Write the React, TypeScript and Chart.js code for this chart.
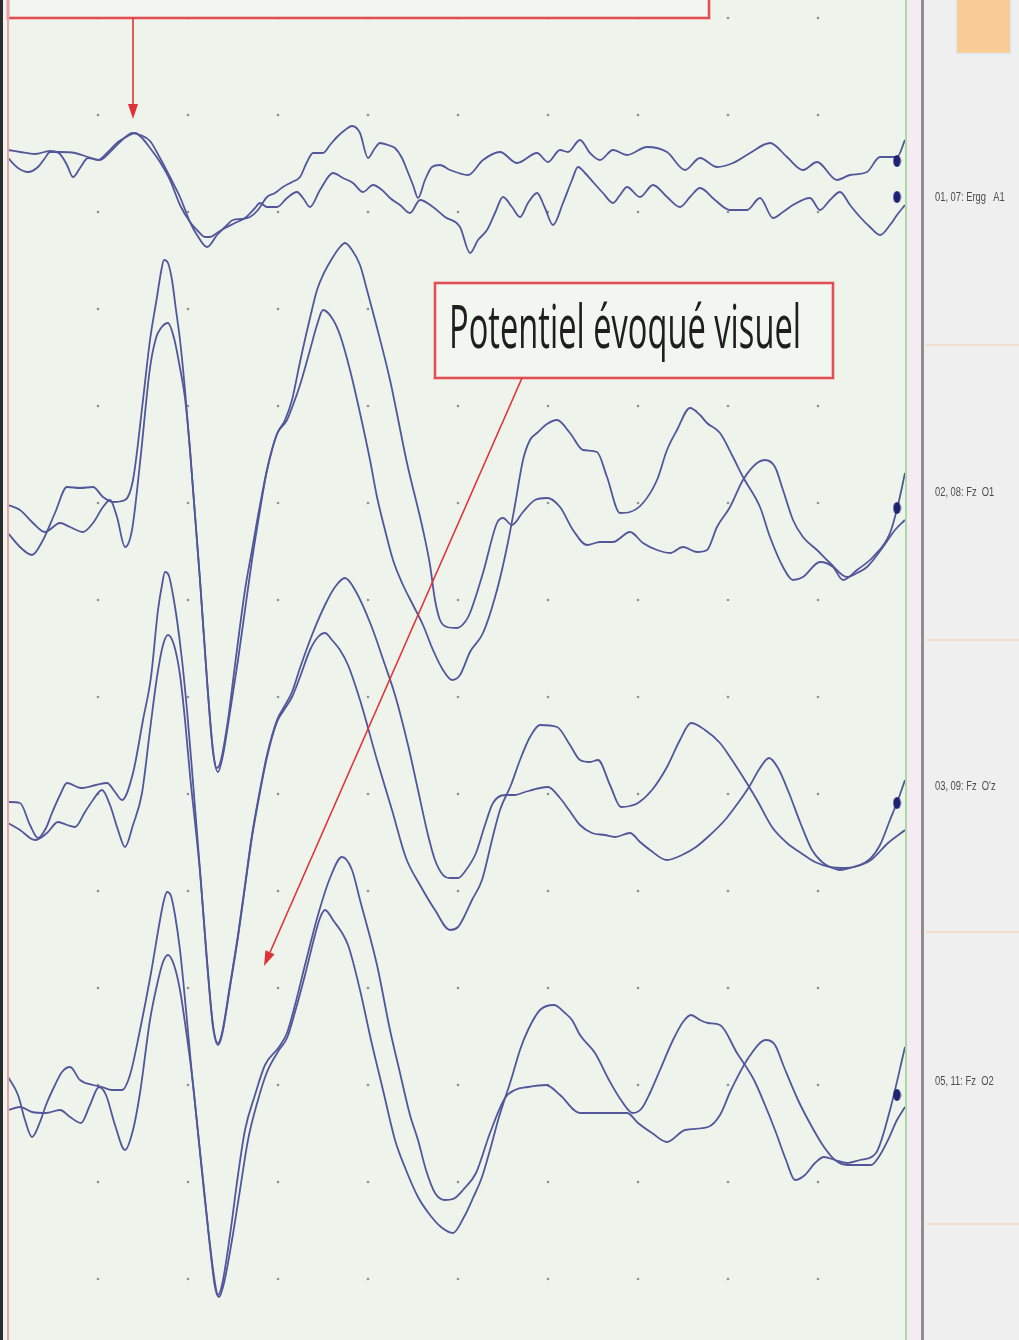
import React, { useEffect, useRef } from "react";
import { Chart, registerables } from "chart.js";

Chart.register(...registerables);

// x = sample index (~3 samples per ms, 0..897), y = stacked display amplitude (axis reversed)
const X_MAX = 897;
const Y_MAX = 1340;
const GRID_X = [90, 180, 270, 360, 450, 540, 630, 720, 810];
const GRID_Y = [18, 115, 212, 309, 406, 503, 600, 697, 794, 891, 988, 1085, 1182, 1279];

// Channel 01,07 : Ergg A1
const CH1_A = [[0,150],[12,152],[27,154],[42,151],[52,154],[59,165],[65,177],[72,168],[80,158],[92,160],[102,152],[112,142],[120,135],[124,133],[132,135],[142,141],[152,158],[162,177],[172,197],[182,222],[189,235],[199,247],[209,235],[217,227],[225,220],[234,219],[242,217],[250,210],[259,197],[267,193],[275,187],[284,182],[292,177],[299,162],[305,153],[315,153],[322,145],[329,137],[337,130],[344,126],[352,133],[360,158],[367,148],[372,143],[380,145],[387,148],[394,158],[399,170],[405,185],[410,198],[417,180],[424,167],[432,165],[442,170],[460,175],[475,160],[492,152],[509,163],[529,153],[540,162],[552,150],[560,152],[572,140],[582,153],[592,160],[605,150],[619,155],[639,147],[659,152],[677,170],[692,158],[709,167],[725,163],[742,153],[762,143],[779,157],[795,170],[809,162],[829,180],[842,175],[859,172],[872,157],[889,157],[897,140]];
const CH1_B = [[0,158],[10,168],[20,172],[30,167],[37,158],[42,152],[52,152],[67,153],[80,157],[90,160],[100,152],[110,142],[120,136],[127,133],[134,138],[142,148],[152,162],[162,180],[172,205],[182,222],[189,230],[197,237],[202,237],[209,233],[217,228],[227,223],[237,218],[247,208],[252,203],[259,207],[269,207],[279,198],[289,192],[295,198],[302,207],[312,190],[325,173],[335,178],[345,183],[355,192],[365,185],[374,190],[382,198],[392,205],[402,213],[412,200],[425,207],[437,217],[452,227],[462,253],[470,240],[479,230],[487,213],[495,197],[504,207],[512,217],[520,203],[529,193],[537,208],[545,225],[555,203],[564,180],[570,167],[577,173],[585,182],[595,193],[605,203],[612,195],[619,187],[632,197],[645,185],[659,197],[672,207],[682,197],[692,188],[707,200],[722,210],[739,210],[752,198],[765,218],[775,212],[785,205],[802,198],[812,210],[822,200],[832,192],[842,205],[852,217],[862,227],[872,235],[882,225],[889,215],[897,205]];

// Channel 02,08 : Fz O1
const CH2_A = [[0,533],[12,547],[24,555],[35,540],[47,513],[59,487],[72,488],[85,487],[95,497],[105,502],[117,500],[125,480],[135,400],[142,340],[149,297],[153,272],[156,260],[160,263],[164,280],[168,310],[172,340],[177,390],[182,450],[192,580],[199,680],[205,750],[209,768],[213,760],[220,720],[227,665],[237,590],[244,550],[252,505],[259,470],[269,434],[277,420],[284,400],[292,362],[302,318],[309,290],[315,275],[325,257],[332,247],[337,243],[344,250],[352,265],[359,290],[367,320],[382,380],[399,463],[415,530],[422,565],[427,600],[432,620],[439,627],[449,628],[457,622],[462,613],[475,573],[489,523],[495,518],[504,525],[515,512],[527,500],[539,498],[552,507],[565,530],[579,545],[592,542],[605,542],[622,532],[635,543],[649,550],[662,553],[675,547],[689,552],[699,550],[709,527],[722,507],[735,480],[749,463],[757,460],[767,467],[775,490],[785,520],[795,537],[809,550],[822,563],[839,577],[849,573],[859,567],[875,547],[887,530],[897,520]];
const CH2_B = [[0,505],[12,510],[25,523],[37,532],[52,523],[62,527],[75,532],[85,523],[95,507],[102,500],[109,517],[117,547],[124,530],[132,463],[142,368],[148,338],[153,328],[160,323],[166,338],[172,368],[177,398],[182,450],[192,580],[199,680],[205,752],[210,772],[215,755],[222,712],[230,660],[237,610],[244,560],[252,510],[259,470],[269,434],[279,420],[285,405],[292,385],[302,350],[309,325],[315,310],[324,318],[332,335],[342,370],[352,413],[362,460],[369,497],[377,530],[385,560],[395,585],[405,605],[415,625],[425,650],[435,670],[444,680],[452,675],[462,652],[475,633],[489,590],[499,547],[507,505],[515,460],[522,440],[529,433],[539,424],[549,420],[562,433],[575,450],[589,452],[599,477],[612,513],[622,512],[635,503],[649,480],[659,450],[669,430],[682,408],[692,415],[699,423],[712,433],[725,457],[735,477],[752,507],[762,537],[775,567],[785,580],[795,577],[812,562],[825,567],[835,580],[849,570],[865,557],[882,533],[890,505],[897,473]];

// Channel 03,09 : Fz O'z
const CH3_A = [[0,802],[12,803],[22,825],[30,838],[38,828],[44,813],[52,795],[59,783],[73,788],[88,785],[99,783],[107,792],[114,800],[125,773],[135,720],[143,677],[150,610],[154,585],[157,572],[161,576],[165,595],[169,620],[174,660],[179,710],[184,770],[192,870],[199,960],[205,1025],[210,1043],[214,1033],[222,985],[230,935],[237,885],[244,835],[252,790],[259,755],[269,720],[276,707],[284,692],[292,668],[304,635],[317,605],[327,587],[337,578],[347,590],[363,625],[377,665],[387,695],[400,745],[410,790],[420,835],[427,860],[435,875],[442,878],[450,878],[458,870],[468,853],[477,825],[485,803],[497,795],[507,795],[517,792],[532,788],[540,787],[552,798],[561,810],[572,825],[584,833],[597,835],[607,837],[622,833],[632,842],[642,850],[659,860],[674,855],[688,847],[702,835],[717,820],[730,803],[741,787],[752,768],[761,758],[770,768],[781,793],[792,822],[804,850],[814,862],[822,867],[832,870],[845,867],[863,860],[880,843],[897,830]];
const CH3_B = [[0,823],[12,830],[27,840],[39,833],[50,822],[59,825],[67,827],[77,812],[85,800],[94,790],[102,805],[110,830],[117,847],[125,825],[134,793],[142,730],[149,677],[155,645],[160,635],[166,645],[172,675],[177,720],[182,775],[192,872],[199,962],[205,1027],[210,1045],[214,1035],[222,987],[230,937],[237,887],[244,837],[252,792],[259,757],[269,722],[276,710],[284,697],[292,677],[302,650],[310,637],[317,633],[324,640],[332,650],[340,665],[352,700],[369,760],[384,810],[398,858],[412,885],[427,910],[442,930],[450,927],[456,917],[464,900],[474,880],[484,840],[492,810],[503,785],[512,760],[522,737],[532,725],[549,727],[562,745],[572,760],[582,762],[590,760],[602,785],[613,807],[622,806],[630,803],[644,790],[659,767],[672,740],[683,723],[697,730],[712,743],[722,757],[735,777],[749,800],[764,827],[779,843],[793,853],[807,862],[822,867],[837,868],[850,866],[863,858],[872,845],[882,820],[890,800],[897,780]];

// Channel 05,11 : Fz O2
const CH4_A = [[0,1077],[10,1095],[17,1120],[24,1137],[32,1122],[38,1105],[47,1085],[54,1072],[62,1067],[72,1080],[85,1085],[94,1087],[104,1090],[114,1090],[122,1075],[132,1030],[143,973],[152,920],[156,900],[159,892],[163,896],[167,915],[172,950],[178,1010],[184,1075],[194,1170],[202,1245],[207,1283],[210,1295],[214,1285],[222,1235],[230,1175],[237,1130],[247,1095],[257,1065],[271,1047],[279,1033],[287,1005],[297,965],[310,915],[322,878],[334,857],[344,870],[352,900],[369,965],[382,1030],[392,1073],[402,1115],[410,1140],[418,1170],[427,1193],[437,1200],[447,1198],[455,1190],[468,1173],[482,1133],[497,1098],[507,1090],[520,1087],[538,1085],[552,1095],[572,1113],[587,1113],[601,1113],[619,1113],[630,1123],[644,1133],[659,1142],[677,1130],[700,1127],[712,1115],[723,1090],[741,1057],[758,1040],[767,1045],[776,1067],[790,1100],[804,1127],[816,1147],[827,1160],[839,1165],[852,1165],[863,1165],[872,1155],[880,1140],[889,1120],[897,1107]];
const CH4_B = [[0,1110],[12,1107],[24,1112],[38,1113],[52,1110],[62,1117],[73,1123],[82,1105],[91,1087],[98,1095],[107,1125],[117,1150],[125,1130],[132,1093],[142,1020],[149,985],[155,962],[160,955],[166,965],[172,990],[178,1030],[184,1075],[194,1172],[202,1247],[207,1287],[211,1297],[216,1283],[224,1240],[232,1190],[240,1140],[250,1100],[259,1072],[271,1050],[279,1038],[287,1012],[297,975],[307,935],[312,918],[317,910],[325,920],[340,945],[352,990],[363,1040],[375,1090],[387,1140],[398,1170],[410,1197],[422,1215],[433,1227],[445,1233],[456,1217],[465,1198],[474,1177],[482,1150],[491,1117],[503,1080],[512,1050],[520,1030],[532,1010],[546,1005],[557,1013],[564,1020],[572,1035],[587,1053],[601,1080],[613,1100],[625,1113],[634,1108],[642,1093],[652,1070],[665,1040],[675,1022],[683,1015],[692,1020],[700,1023],[712,1025],[729,1053],[746,1080],[757,1105],[767,1130],[778,1160],[787,1180],[797,1175],[807,1163],[816,1157],[827,1160],[839,1163],[852,1160],[868,1153],[882,1110],[897,1047]];

const TRACES = [CH1_A, CH1_B, CH2_A, CH2_B, CH3_A, CH3_B, CH4_A, CH4_B];
const END_MARKERS = [[889,161],[889,197],[889,508],[889,803],[889,1095]];

const CHANNEL_LABELS = ["01, 07: Ergg   A1", "02, 08: Fz  O1", "03, 09: Fz  O'z", "05, 11: Fz  O2"];
const ANNOTATION_TEXT = "Potentiel évoqué visuel";

// annotation geometry in data units
const TOP_BOX = { x0: 0, x1: 701, y0: -30, y1: 18 };
const TOP_ARROW = { from: [125, 18], to: [125, 119] };
const VEP_BOX = { x0: 427, x1: 825, y0: 283, y1: 378 };
const VEP_ARROW = { from: [514, 378], to: [256, 966] };

const TRACE_COLOR = "#52579a";
const RED = "#df3437";

export default function App() {
  const canvasRef = useRef<HTMLCanvasElement>(null);
  const textRef = useRef<HTMLSpanElement>(null);

  useEffect(() => {
    const el = textRef.current;
    if (el) {
      el.style.transform = "none";
      const w = el.getBoundingClientRect().width;
      if (w > 0) el.style.transform = `scaleX(${352 / w})`;
    }
  }, []);

  useEffect(() => {
    const canvas = canvasRef.current;
    if (!canvas) return;

    const marker = document.createElement("canvas");
    marker.width = 9;
    marker.height = 14;
    const mc = marker.getContext("2d");
    if (mc) {
      mc.fillStyle = "#1d2273";
      mc.beginPath();
      mc.ellipse(4.5, 7, 3.8, 6, 0, 0, Math.PI * 2);
      mc.fill();
    }

    const gridPts: { x: number; y: number }[] = [];
    GRID_Y.forEach((y) => GRID_X.forEach((x) => gridPts.push({ x, y })));

    const bgPlugin = {
      id: "bg",
      beforeDraw(chart: any) {
        const { ctx, chartArea } = chart;
        ctx.save();
        ctx.fillStyle = "#eef3ec";
        ctx.fillRect(chartArea.left, chartArea.top, chartArea.right - chartArea.left, chartArea.bottom - chartArea.top);
        ctx.restore();
      },
    };

    const annotPlugin = {
      id: "annot",
      afterDatasetsDraw(chart: any) {
        const { ctx } = chart;
        const xs = chart.scales.x;
        const ys = chart.scales.y;
        const px = (v: number) => xs.getPixelForValue(v);
        const py = (v: number) => ys.getPixelForValue(v);

        const box = (b: any) => {
          const x0 = px(b.x0), x1 = px(b.x1), y0 = py(b.y0), y1 = py(b.y1);
          ctx.save();
          ctx.fillStyle = "#f1f6f0";
          ctx.fillRect(x0, y0, x1 - x0, y1 - y0);
          ctx.strokeStyle = "rgba(236,150,158,0.55)";
          ctx.lineWidth = 4;
          ctx.strokeRect(x0, y0, x1 - x0, y1 - y0);
          ctx.strokeStyle = RED;
          ctx.lineWidth = 1.6;
          ctx.strokeRect(x0, y0, x1 - x0, y1 - y0);
          ctx.restore();
        };
        const arrow = (a: any) => {
          const x0 = px(a.from[0]), y0 = py(a.from[1]);
          const x1 = px(a.to[0]), y1 = py(a.to[1]);
          const ang = Math.atan2(y1 - y0, x1 - x0);
          const hl = 15, hw = 5;
          const bx = x1 - hl * Math.cos(ang), by = y1 - hl * Math.sin(ang);
          ctx.save();
          ctx.strokeStyle = RED;
          ctx.lineWidth = 1.6;
          ctx.beginPath();
          ctx.moveTo(x0, y0);
          ctx.lineTo(bx, by);
          ctx.stroke();
          ctx.fillStyle = RED;
          ctx.beginPath();
          ctx.moveTo(x1, y1);
          ctx.lineTo(bx + hw * Math.sin(ang), by - hw * Math.cos(ang));
          ctx.lineTo(bx - hw * Math.sin(ang), by + hw * Math.cos(ang));
          ctx.closePath();
          ctx.fill();
          ctx.restore();
        };
        box(TOP_BOX);
        arrow(TOP_ARROW);
        box(VEP_BOX);
        arrow(VEP_ARROW);
      },
    };

    const datasets: any[] = [
      {
        type: "scatter",
        data: gridPts,
        pointRadius: 1.3,
        pointBackgroundColor: "#8d938d",
        pointBorderWidth: 0,
        showLine: false,
        order: 3,
      },
      ...TRACES.map((tr) => ({
        type: "line",
        data: tr.map(([x, y]) => ({ x, y })),
        borderColor: TRACE_COLOR,
        borderWidth: 1.8,
        pointRadius: 0,
        cubicInterpolationMode: "monotone",
        fill: false,
        order: 2,
      })),
      {
        type: "scatter",
        data: END_MARKERS.map(([x, y]) => ({ x, y })),
        pointStyle: marker,
        pointRadius: 5,
        showLine: false,
        order: 1,
      },
    ];

    const chart = new Chart(canvas, {
      type: "line",
      data: { datasets },
      options: {
        animation: false,
        responsive: false,
        maintainAspectRatio: false,
        devicePixelRatio: 1,
        events: [],
        layout: { autoPadding: false, padding: { left: 8, right: 114, top: 0, bottom: 0 } },
        scales: {
          x: { type: "linear", min: 0, max: X_MAX, display: false },
          y: { type: "linear", min: 0, max: Y_MAX, reverse: true, display: false },
        },
        plugins: { legend: { display: false }, tooltip: { enabled: false } },
      },
      plugins: [bgPlugin, annotPlugin],
    } as any);

    return () => chart.destroy();
  }, []);

  const labelRows = [197, 492, 786, 1081];
  const separators = [344, 639, 931, 1223];

  return (
    <div style={{ position: "absolute", left: 0, top: 0, width: 1019, height: 1340, overflow: "hidden", background: "#efefef" }}>
      <div style={{ position: "absolute", left: 0, top: 0, width: 8, height: 1340, background: "#eef3ec" }} />
      <canvas ref={canvasRef} width={1019} height={1340} style={{ position: "absolute", left: 0, top: 0, width: 1019, height: 1340 }} />
      <div style={{ position: "absolute", left: 0, top: 0, width: 3, height: 1340, background: "#2b2b2b" }} />
      <div style={{ position: "absolute", left: 7, top: 0, width: 2, height: 1340, background: "#e7a4a8" }} />
      <div style={{ position: "absolute", left: 905, top: 0, width: 2, height: 1340, background: "#a9dca2" }} />
      <div style={{ position: "absolute", left: 907, top: 0, width: 14, height: 1340, background: "#f5ebf3" }} />
      <div style={{ position: "absolute", left: 921, top: 0, width: 3, height: 1340, background: "#8e8e8e" }} />
      <div style={{ position: "absolute", left: 957, top: 0, width: 53, height: 53, background: "#f8cb97", boxShadow: "0 0 0 2px #e3ebf3" }} />
      {separators.map((y) => (
        <div key={y} style={{ position: "absolute", left: 926, top: y, width: 93, height: 2, background: "#f3dccb" }} />
      ))}
      {CHANNEL_LABELS.map((t, i) => (
        <span
          key={t}
          style={{
            position: "absolute",
            left: 935,
            top: labelRows[i] - 8,
            fontFamily: "'Liberation Sans', Arial, sans-serif",
            fontSize: 13,
            lineHeight: "16px",
            color: "#4c4c4c",
            whiteSpace: "pre",
            transform: "scaleX(0.72)",
            transformOrigin: "left center",
          }}
        >
          {t}
        </span>
      ))}
      <span
        ref={textRef}
        style={{
          position: "absolute",
          left: 449,
          top: 293,
          fontFamily: "'Open Sans', 'Noto Sans', sans-serif",
          fontSize: 60,
          lineHeight: "64px",
          color: "#1e1e1e",
          whiteSpace: "nowrap",
          transformOrigin: "left center",
        }}
      >
        {ANNOTATION_TEXT}
      </span>
    </div>
  );
}
